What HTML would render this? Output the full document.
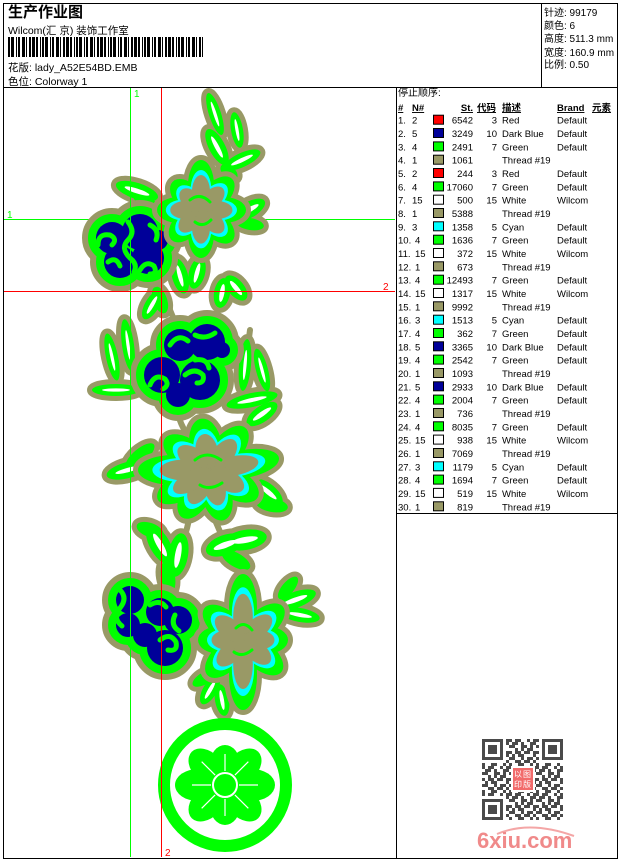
<!DOCTYPE html>
<html><head><meta charset="utf-8"><style>
html,body{margin:0;padding:0;background:#fff;}
svg{display:block;}
.t{font-family:"Liberation Sans","Noto Sans CJK SC",sans-serif;}
</style></head><body>
<svg width="620" height="860" viewBox="0 0 620 860" xmlns="http://www.w3.org/2000/svg" xmlns:xlink="http://www.w3.org/1999/xlink" class="t">
<defs>
<g id="lv">
<ellipse cx="215" cy="114" rx="22" ry="6" transform="rotate(72 215 114)"/>
<ellipse cx="237" cy="130" rx="18" ry="6" transform="rotate(80 237 130)"/>
<ellipse cx="217" cy="147" rx="20" ry="8" transform="rotate(62 217 147)"/>
<ellipse cx="242" cy="160" rx="20" ry="7" transform="rotate(-25 242 160)"/>
<ellipse cx="229" cy="172" rx="10" ry="6" transform="rotate(40 229 172)"/>
<ellipse cx="137" cy="191" rx="22" ry="8" transform="rotate(18 137 191)"/>
<ellipse cx="145" cy="201" rx="16" ry="7" transform="rotate(40 145 201)"/>
<ellipse cx="249" cy="210" rx="18" ry="8" transform="rotate(-30 249 210)"/>
<ellipse cx="250" cy="224" rx="14" ry="6" transform="rotate(10 250 224)"/>
<ellipse cx="180" cy="276" rx="18" ry="8" transform="rotate(75 180 276)"/>
<ellipse cx="197" cy="273" rx="16" ry="8" transform="rotate(105 197 273)"/>
<ellipse cx="172" cy="262" rx="12" ry="6" transform="rotate(40 172 262)"/>
<ellipse cx="222" cy="293" rx="15" ry="8" transform="rotate(100 222 293)"/>
<ellipse cx="236" cy="288" rx="15" ry="8" transform="rotate(50 236 288)"/>
<ellipse cx="152" cy="305" rx="16" ry="7" transform="rotate(120 152 305)"/>
<ellipse cx="160" cy="300" rx="14" ry="7" transform="rotate(70 160 300)"/>
<ellipse cx="116" cy="390" rx="24" ry="6" transform="rotate(0 116 390)"/>
<ellipse cx="112" cy="357" rx="24" ry="6" transform="rotate(78 112 357)"/>
<ellipse cx="128" cy="345" rx="26" ry="6" transform="rotate(82 128 345)"/>
<ellipse cx="245" cy="365" rx="26" ry="6" transform="rotate(95 245 365)"/>
<ellipse cx="262" cy="370" rx="22" ry="6" transform="rotate(75 262 370)"/>
<ellipse cx="252" cy="400" rx="26" ry="7" transform="rotate(-12 252 400)"/>
<ellipse cx="128" cy="470" rx="22" ry="8" transform="rotate(-15 128 470)"/>
<ellipse cx="140" cy="456" rx="18" ry="7" transform="rotate(-40 140 456)"/>
<ellipse cx="262" cy="414" rx="18" ry="8" transform="rotate(-35 262 414)"/>
<ellipse cx="268" cy="492" rx="18" ry="8" transform="rotate(40 268 492)"/>
<ellipse cx="272" cy="505" rx="16" ry="7" transform="rotate(10 272 505)"/>
<ellipse cx="160" cy="545" rx="22" ry="10" transform="rotate(60 160 545)"/>
<ellipse cx="178" cy="555" rx="22" ry="10" transform="rotate(100 178 555)"/>
<ellipse cx="168" cy="577" rx="16" ry="7" transform="rotate(80 168 577)"/>
<ellipse cx="150" cy="530" rx="14" ry="7" transform="rotate(20 150 530)"/>
<ellipse cx="225" cy="545" rx="20" ry="10" transform="rotate(-20 225 545)"/>
<ellipse cx="245" cy="540" rx="22" ry="10" transform="rotate(-10 245 540)"/>
<ellipse cx="236" cy="560" rx="16" ry="7" transform="rotate(30 236 560)"/>
<ellipse cx="295" cy="600" rx="22" ry="8" transform="rotate(-20 295 600)"/>
<ellipse cx="300" cy="615" rx="20" ry="7" transform="rotate(10 300 615)"/>
<ellipse cx="288" cy="588" rx="14" ry="6" transform="rotate(-50 288 588)"/>
<ellipse cx="210" cy="690" rx="16" ry="7" transform="rotate(120 210 690)"/>
<ellipse cx="222" cy="700" rx="16" ry="7" transform="rotate(80 222 700)"/>
<ellipse cx="205" cy="678" rx="14" ry="6" transform="rotate(150 205 678)"/>
</g>
<g id="c1"><circle cx="112" cy="238" r="16"/><circle cx="140" cy="232" r="18"/><circle cx="120" cy="262" r="16"/><circle cx="148" cy="258" r="16"/><circle cx="158" cy="240" r="10"/></g>
<g id="c2"><circle cx="180" cy="345" r="16"/><circle cx="207" cy="342" r="18"/><circle cx="222" cy="350" r="8"/><circle cx="162" cy="375" r="18"/><circle cx="200" cy="380" r="20"/><circle cx="178" cy="395" r="12"/></g>
<g id="c3"><circle cx="130" cy="600" r="14"/><circle cx="128" cy="625" r="12"/><circle cx="160" cy="612" r="14"/><circle cx="178" cy="620" r="14"/><circle cx="165" cy="648" r="18"/><circle cx="145" cy="635" r="12"/></g>
<g id="f1">
<circle cx="201" cy="210" r="20"/>
<ellipse cx="223.5" cy="210" rx="22.5" ry="13" transform="rotate(0 201 210)"/>
<ellipse cx="223" cy="210" rx="22" ry="13" transform="rotate(45 201 210)"/>
<ellipse cx="225" cy="210" rx="24" ry="13" transform="rotate(90 201 210)"/>
<ellipse cx="222" cy="210" rx="21" ry="13" transform="rotate(135 201 210)"/>
<ellipse cx="223" cy="210" rx="22" ry="13" transform="rotate(180 201 210)"/>
<ellipse cx="221" cy="210" rx="20" ry="13" transform="rotate(225 201 210)"/>
<ellipse cx="226" cy="210" rx="25" ry="13" transform="rotate(270 201 210)"/>
<ellipse cx="223" cy="210" rx="22" ry="13" transform="rotate(315 201 210)"/>
</g>
<g id="f2">
<circle cx="210" cy="470" r="30"/>
<ellipse cx="246" cy="470" rx="36" ry="15" transform="rotate(180 210 470)"/>
<ellipse cx="237.5" cy="470" rx="27.5" ry="15" transform="rotate(215 210 470)"/>
<ellipse cx="236" cy="470" rx="26" ry="16" transform="rotate(260 210 470)"/>
<ellipse cx="237.5" cy="470" rx="27.5" ry="15" transform="rotate(310 210 470)"/>
<ellipse cx="245" cy="470" rx="35" ry="14" transform="rotate(350 210 470)"/>
<ellipse cx="237.5" cy="470" rx="27.5" ry="15" transform="rotate(30 210 470)"/>
<ellipse cx="236" cy="470" rx="26" ry="15" transform="rotate(75 210 470)"/>
<ellipse cx="237.5" cy="470" rx="27.5" ry="15" transform="rotate(120 210 470)"/>
<ellipse cx="240" cy="470" rx="30" ry="14" transform="rotate(150 210 470)"/>
</g>
<g id="f3">
<circle cx="243" cy="640" r="25"/>
<ellipse cx="276" cy="640" rx="33" ry="14" transform="rotate(270 243 640)"/>
<ellipse cx="269" cy="640" rx="26" ry="14" transform="rotate(320 243 640)"/>
<ellipse cx="265.5" cy="640" rx="22.5" ry="14" transform="rotate(0 243 640)"/>
<ellipse cx="268" cy="640" rx="25" ry="14" transform="rotate(40 243 640)"/>
<ellipse cx="278" cy="640" rx="35" ry="14" transform="rotate(90 243 640)"/>
<ellipse cx="268" cy="640" rx="25" ry="14" transform="rotate(135 243 640)"/>
<ellipse cx="265.5" cy="640" rx="22.5" ry="14" transform="rotate(180 243 640)"/>
<ellipse cx="268" cy="640" rx="25" ry="14" transform="rotate(220 243 640)"/>
</g>
<pattern id="qr" x="482" y="739" width="27" height="27" patternUnits="userSpaceOnUse">
<path fill="#4a4a4a" d="M0 0h3v3h-3z M6 0h6v3h-6z M18 0h3v3h-3z M24 0h3v3h-3z M3 3h6v3h-6z M12 3h3v3h-3z M21 3h6v3h-6z M0 6h6v3h-6z M12 6h6v3h-6z M21 6h3v3h-3z M6 9h3v3h-3z M12 9h3v3h-3z M18 9h6v3h-6z M0 12h3v3h-3z M6 12h6v3h-6z M15 12h6v3h-6z M24 12h3v3h-3z M3 15h3v3h-3z M9 15h6v3h-6z M24 15h3v3h-3z M0 18h6v3h-6z M12 18h3v3h-3z M18 18h6v3h-6z M6 21h6v3h-6z M15 21h6v3h-6z M24 21h3v3h-3z M0 24h3v3h-3z M9 24h6v3h-6z M21 24h3v3h-3z"/>
</pattern>
</defs>

<rect width="620" height="860" fill="#fff"/>

<!-- Header -->
<text x="8" y="17" font-size="15" font-weight="bold" font-family="'Noto Sans CJK SC',sans-serif">生产作业图</text>
<text x="8" y="34" font-size="10.5">Wilcom(汇 京) 装饰工作室</text>
<path fill="#000" d="M8 37h2v20h-2z M11 37h3v20h-3z M16 37h1v20h-1z M18 37h2v20h-2z M22 37h3v20h-3z M26 37h1v20h-1z M29 37h2v20h-2z M32 37h3v20h-3z M36 37h2v20h-2z M40 37h1v20h-1z M42 37h2v20h-2z M45 37h3v20h-3z M50 37h1v20h-1z M52 37h2v20h-2z M56 37h3v20h-3z M60 37h1v20h-1z M63 37h2v20h-2z M66 37h3v20h-3z M70 37h2v20h-2z M74 37h1v20h-1z M76 37h2v20h-2z M79 37h3v20h-3z M84 37h1v20h-1z M86 37h2v20h-2z M90 37h3v20h-3z M94 37h1v20h-1z M97 37h2v20h-2z M100 37h3v20h-3z M104 37h2v20h-2z M108 37h1v20h-1z M110 37h2v20h-2z M113 37h3v20h-3z M118 37h1v20h-1z M120 37h2v20h-2z M124 37h3v20h-3z M128 37h1v20h-1z M131 37h2v20h-2z M134 37h3v20h-3z M138 37h2v20h-2z M142 37h1v20h-1z M144 37h2v20h-2z M147 37h3v20h-3z M152 37h1v20h-1z M154 37h2v20h-2z M158 37h3v20h-3z M162 37h1v20h-1z M165 37h2v20h-2z M168 37h3v20h-3z M172 37h2v20h-2z M176 37h1v20h-1z M178 37h2v20h-2z M181 37h3v20h-3z M186 37h1v20h-1z M188 37h2v20h-2z M192 37h3v20h-3z M196 37h1v20h-1z M199 37h2v20h-2z M202 37h1v20h-1z"/>
<text x="8" y="71" font-size="10.5">花版: lady_A52E54BD.EMB</text>
<text x="8" y="85" font-size="10.5">色位: Colorway 1</text>

<g font-size="10">
<text x="544" y="16">针迹: 99179</text>
<text x="544" y="29">颜色: 6</text>
<text x="544" y="42">高度: 511.3 mm</text>
<text x="544" y="56">宽度: 160.9 mm</text>
<text x="544" y="68">比例: 0.50</text>
</g>

<!-- Frame -->
<g stroke="#000" stroke-width="1" fill="none" shape-rendering="crispEdges">
<rect x="3.5" y="3.5" width="614" height="855"/>
<line x1="3.5" y1="87.5" x2="617.5" y2="87.5"/>
<line x1="541.5" y1="3.5" x2="541.5" y2="87.5"/>
<line x1="396.5" y1="87.5" x2="396.5" y2="858.5"/>
<line x1="396.5" y1="513.5" x2="617.5" y2="513.5"/>
</g>

<!-- Design area -->
<line x1="4" y1="219.5" x2="395" y2="219.5" stroke="#00ff00" shape-rendering="crispEdges"/>
<g fill="none" stroke="#999966" stroke-width="6" stroke-linecap="round">
<path d="M210,95 Q220,140 230,178"/>
<path d="M165,298 Q170,310 175,322"/>
<path d="M175,405 Q180,425 190,440"/>
<path d="M190,515 Q185,540 175,565"/>
<path d="M215,520 Q228,550 240,578"/>
<path d="M122,330 Q128,370 140,390"/>
<path d="M250,330 Q245,370 240,400"/>
</g>
<use xlink:href="#lv" href="#lv" fill="#999966" stroke="#999966" stroke-width="10" stroke-linejoin="round"/>
<use xlink:href="#lv" href="#lv" fill="#00ff00"/>
<g fill="#fff">
<ellipse cx="215" cy="114" rx="13" ry="1.6" transform="rotate(72 215 114)"/>
<ellipse cx="237" cy="130" rx="11" ry="1.6" transform="rotate(80 237 130)"/>
<ellipse cx="217" cy="147" rx="12" ry="2.2" transform="rotate(62 217 147)"/>
<ellipse cx="242" cy="160" rx="12" ry="2" transform="rotate(-25 242 160)"/>
<ellipse cx="137" cy="191" rx="13" ry="2.4" transform="rotate(18 137 191)"/>
<ellipse cx="249" cy="210" rx="11" ry="2.4" transform="rotate(-30 249 210)"/>
<ellipse cx="180" cy="276" rx="11" ry="2.2" transform="rotate(75 180 276)"/>
<ellipse cx="197" cy="273" rx="10" ry="2.2" transform="rotate(105 197 273)"/>
<ellipse cx="222" cy="293" rx="9" ry="2.4" transform="rotate(100 222 293)"/>
<ellipse cx="236" cy="288" rx="9" ry="2.4" transform="rotate(50 236 288)"/>
<ellipse cx="152" cy="305" rx="10" ry="2" transform="rotate(120 152 305)"/>
<ellipse cx="116" cy="390" rx="14" ry="1.6" transform="rotate(0 116 390)"/>
<ellipse cx="112" cy="357" rx="14" ry="1.6" transform="rotate(78 112 357)"/>
<ellipse cx="128" cy="345" rx="15" ry="1.6" transform="rotate(82 128 345)"/>
<ellipse cx="245" cy="365" rx="15" ry="1.6" transform="rotate(95 245 365)"/>
<ellipse cx="262" cy="370" rx="13" ry="1.6" transform="rotate(75 262 370)"/>
<ellipse cx="252" cy="400" rx="15" ry="2" transform="rotate(-12 252 400)"/>
<ellipse cx="128" cy="470" rx="13" ry="2.2" transform="rotate(-15 128 470)"/>
<ellipse cx="262" cy="414" rx="11" ry="2.4" transform="rotate(-35 262 414)"/>
<ellipse cx="268" cy="492" rx="11" ry="2.4" transform="rotate(40 268 492)"/>
<ellipse cx="160" cy="545" rx="13" ry="3" transform="rotate(60 160 545)"/>
<ellipse cx="178" cy="555" rx="13" ry="3" transform="rotate(100 178 555)"/>
<ellipse cx="225" cy="545" rx="12" ry="3" transform="rotate(-20 225 545)"/>
<ellipse cx="245" cy="540" rx="13" ry="3" transform="rotate(-10 245 540)"/>
<ellipse cx="295" cy="600" rx="13" ry="2.4" transform="rotate(-20 295 600)"/>
<ellipse cx="300" cy="615" rx="12" ry="2" transform="rotate(10 300 615)"/>
<ellipse cx="210" cy="690" rx="10" ry="2" transform="rotate(120 210 690)"/>
<ellipse cx="222" cy="700" rx="10" ry="2" transform="rotate(80 222 700)"/>
</g>

<!-- Clouds -->
<use xlink:href="#c1" href="#c1" fill="#999966" stroke="#999966" stroke-width="28"/>
<use xlink:href="#c1" href="#c1" fill="#00ff00" stroke="#00ff00" stroke-width="16"/>
<use xlink:href="#c1" href="#c1" fill="#000099"/>
<use xlink:href="#c2" href="#c2" fill="#999966" stroke="#999966" stroke-width="28"/>
<use xlink:href="#c2" href="#c2" fill="#00ff00" stroke="#00ff00" stroke-width="16"/>
<use xlink:href="#c2" href="#c2" fill="#000099"/>
<use xlink:href="#c3" href="#c3" fill="#999966" stroke="#999966" stroke-width="28"/>
<use xlink:href="#c3" href="#c3" fill="#00ff00" stroke="#00ff00" stroke-width="16"/>
<use xlink:href="#c3" href="#c3" fill="#000099"/>
<g fill="none" stroke="#00ff00" stroke-width="5" stroke-linecap="round">
<path d="M98,245 q0,-12 12,-10 q8,4 2,10"/>
<path d="M128,222 q8,10 0,18 q-8,8 2,18 q8,6 4,14"/>
<path d="M140,270 q6,-10 14,-4 q4,8 -4,8"/>
<path d="M150,225 q10,5 6,15"/>
<path d="M108,262 q8,-6 12,4"/>
<path d="M170,345 q8,-12 18,-4"/>
<path d="M195,335 q10,5 20,-2"/>
<path d="M150,385 q5,-12 15,-6 q5,6 -2,10"/>
<path d="M185,375 q10,-8 18,0 q2,8 -6,8"/>
<path d="M195,360 q12,-2 14,8"/>
<path d="M120,590 q8,8 0,18 q-8,10 2,18"/>
<path d="M150,605 q10,-6 16,2"/>
<path d="M160,640 q10,-8 16,2 q2,10 -8,8"/>
<path d="M175,615 q-5,10 4,16"/>
</g>

<!-- Flowers -->
<use xlink:href="#f1" href="#f1" fill="#999966" stroke="#999966" stroke-width="10"/>
<use xlink:href="#f1" href="#f1" fill="#00ff00"/>
<use xlink:href="#f1" href="#f1" fill="#00ffff" transform="translate(201 210) scale(0.8) translate(-201 -210)"/>
<use xlink:href="#f1" href="#f1" fill="#999966" transform="translate(201 210) scale(0.7) translate(-201 -210)"/>
<use xlink:href="#f2" href="#f2" fill="#999966" stroke="#999966" stroke-width="10"/>
<use xlink:href="#f2" href="#f2" fill="#00ff00"/>
<use xlink:href="#f2" href="#f2" fill="#00ffff" transform="translate(210 470) scale(0.8) translate(-210 -470)"/>
<use xlink:href="#f2" href="#f2" fill="#999966" transform="translate(210 470) scale(0.7) translate(-210 -470)"/>
<use xlink:href="#f3" href="#f3" fill="#999966" stroke="#999966" stroke-width="10"/>
<use xlink:href="#f3" href="#f3" fill="#00ff00"/>
<use xlink:href="#f3" href="#f3" fill="#00ffff" transform="translate(243 640) scale(0.8) translate(-243 -640)"/>
<use xlink:href="#f3" href="#f3" fill="#999966" transform="translate(243 640) scale(0.7) translate(-243 -640)"/>
<g fill="none" stroke="#00ff00" stroke-width="3" stroke-linecap="round">
<path d="M190,200 q10,-8 20,2"/><path d="M195,222 q8,6 16,-2"/>
<path d="M195,460 q12,-10 26,0"/><path d="M200,485 q10,6 22,-2"/>
<path d="M236,628 q8,-8 16,2"/><path d="M234,652 q8,6 18,-2"/>
</g>

<!-- Bottom circle motif -->
<circle cx="225" cy="785" r="61" fill="none" stroke="#00ff00" stroke-width="12"/>
<g fill="#00ff00">
<circle cx="225" cy="785" r="20"/>
<ellipse cx="252" cy="785" rx="23" ry="16" transform="rotate(0 225 785)"/>
<ellipse cx="250" cy="785" rx="22" ry="15" transform="rotate(45 225 785)"/>
<ellipse cx="246" cy="785" rx="19" ry="15" transform="rotate(90 225 785)"/>
<ellipse cx="250" cy="785" rx="22" ry="15" transform="rotate(135 225 785)"/>
<ellipse cx="252" cy="785" rx="23" ry="16" transform="rotate(180 225 785)"/>
<ellipse cx="250" cy="785" rx="22" ry="15" transform="rotate(225 225 785)"/>
<ellipse cx="246" cy="785" rx="19" ry="15" transform="rotate(270 225 785)"/>
<ellipse cx="250" cy="785" rx="22" ry="15" transform="rotate(315 225 785)"/>
</g>
<g stroke="#fff" stroke-width="1.2">
<line x1="239" y1="785" x2="258" y2="785" transform="rotate(0 225 785)"/>
<line x1="239" y1="785" x2="258" y2="785" transform="rotate(45 225 785)"/>
<line x1="239" y1="785" x2="256" y2="785" transform="rotate(90 225 785)"/>
<line x1="239" y1="785" x2="258" y2="785" transform="rotate(135 225 785)"/>
<line x1="239" y1="785" x2="258" y2="785" transform="rotate(180 225 785)"/>
<line x1="239" y1="785" x2="258" y2="785" transform="rotate(225 225 785)"/>
<line x1="239" y1="785" x2="256" y2="785" transform="rotate(270 225 785)"/>
<line x1="239" y1="785" x2="258" y2="785" transform="rotate(315 225 785)"/>
</g>
<circle cx="225" cy="785" r="12" fill="none" stroke="#fff" stroke-width="2"/>
<circle cx="225" cy="785" r="10.5" fill="#00ff00"/>

<!-- Guides -->
<g shape-rendering="crispEdges">
<line x1="130.5" y1="88" x2="130.5" y2="857" stroke="#00ff00"/>
<line x1="161.5" y1="88" x2="161.5" y2="857" stroke="#ff0000"/>
<line x1="4" y1="291.5" x2="395" y2="291.5" stroke="#ff0000"/>
</g>
<g font-size="10">
<text x="134" y="97" fill="#00ff00">1</text>
<text x="7" y="218" fill="#00ff00">1</text>
<text x="383" y="290" fill="#ff0000">2</text>
<text x="165" y="856" fill="#ff0000">2</text>
</g>

<!-- Stop sequence table -->
<text x="398" y="96" font-size="10">停止顺序:</text>
<g font-size="9.5" font-weight="bold" text-decoration="underline">
<text x="398" y="111">#</text>
<text x="412" y="111">N#</text>
<text x="473" y="111" text-anchor="end">St.</text>
<text x="477" y="111">代码</text>
<text x="502" y="111">描述</text>
<text x="557" y="111">Brand</text>
<text x="592" y="111">元素</text>
</g>
<g font-size="9.5" stroke-width="1">
<g transform="translate(0,123.7)"><text x="398">1.</text><text x="412">2</text><rect x="433.5" y="-8.5" width="10" height="9" fill="#ff0000" stroke="#000"/><text x="473" text-anchor="end">6542</text><text x="497" text-anchor="end">3</text><text x="502">Red</text><text x="557">Default</text></g>
<g transform="translate(0,137.0)"><text x="398">2.</text><text x="412">5</text><rect x="433.5" y="-8.5" width="10" height="9" fill="#000099" stroke="#000"/><text x="473" text-anchor="end">3249</text><text x="497" text-anchor="end">10</text><text x="502">Dark Blue</text><text x="557">Default</text></g>
<g transform="translate(0,150.4)"><text x="398">3.</text><text x="412">4</text><rect x="433.5" y="-8.5" width="10" height="9" fill="#00ff00" stroke="#000"/><text x="473" text-anchor="end">2491</text><text x="497" text-anchor="end">7</text><text x="502">Green</text><text x="557">Default</text></g>
<g transform="translate(0,163.7)"><text x="398">4.</text><text x="412">1</text><rect x="433.5" y="-8.5" width="10" height="9" fill="#999966" stroke="#000"/><text x="473" text-anchor="end">1061</text><text x="502">Thread #19</text></g>
<g transform="translate(0,177.0)"><text x="398">5.</text><text x="412">2</text><rect x="433.5" y="-8.5" width="10" height="9" fill="#ff0000" stroke="#000"/><text x="473" text-anchor="end">244</text><text x="497" text-anchor="end">3</text><text x="502">Red</text><text x="557">Default</text></g>
<g transform="translate(0,190.4)"><text x="398">6.</text><text x="412">4</text><rect x="433.5" y="-8.5" width="10" height="9" fill="#00ff00" stroke="#000"/><text x="473" text-anchor="end">17060</text><text x="497" text-anchor="end">7</text><text x="502">Green</text><text x="557">Default</text></g>
<g transform="translate(0,203.7)"><text x="398">7.</text><text x="412">15</text><rect x="433.5" y="-8.5" width="10" height="9" fill="#ffffff" stroke="#000"/><text x="473" text-anchor="end">500</text><text x="497" text-anchor="end">15</text><text x="502">White</text><text x="557">Wilcom</text></g>
<g transform="translate(0,217.0)"><text x="398">8.</text><text x="412">1</text><rect x="433.5" y="-8.5" width="10" height="9" fill="#999966" stroke="#000"/><text x="473" text-anchor="end">5388</text><text x="502">Thread #19</text></g>
<g transform="translate(0,230.3)"><text x="398">9.</text><text x="412">3</text><rect x="433.5" y="-8.5" width="10" height="9" fill="#00ffff" stroke="#000"/><text x="473" text-anchor="end">1358</text><text x="497" text-anchor="end">5</text><text x="502">Cyan</text><text x="557">Default</text></g>
<g transform="translate(0,243.7)"><text x="398">10.</text><text x="415">4</text><rect x="433.5" y="-8.5" width="10" height="9" fill="#00ff00" stroke="#000"/><text x="473" text-anchor="end">1636</text><text x="497" text-anchor="end">7</text><text x="502">Green</text><text x="557">Default</text></g>
<g transform="translate(0,257.0)"><text x="398">11.</text><text x="415">15</text><rect x="433.5" y="-8.5" width="10" height="9" fill="#ffffff" stroke="#000"/><text x="473" text-anchor="end">372</text><text x="497" text-anchor="end">15</text><text x="502">White</text><text x="557">Wilcom</text></g>
<g transform="translate(0,270.3)"><text x="398">12.</text><text x="415">1</text><rect x="433.5" y="-8.5" width="10" height="9" fill="#999966" stroke="#000"/><text x="473" text-anchor="end">673</text><text x="502">Thread #19</text></g>
<g transform="translate(0,283.7)"><text x="398">13.</text><text x="415">4</text><rect x="433.5" y="-8.5" width="10" height="9" fill="#00ff00" stroke="#000"/><text x="473" text-anchor="end">12493</text><text x="497" text-anchor="end">7</text><text x="502">Green</text><text x="557">Default</text></g>
<g transform="translate(0,297.0)"><text x="398">14.</text><text x="415">15</text><rect x="433.5" y="-8.5" width="10" height="9" fill="#ffffff" stroke="#000"/><text x="473" text-anchor="end">1317</text><text x="497" text-anchor="end">15</text><text x="502">White</text><text x="557">Wilcom</text></g>
<g transform="translate(0,310.3)"><text x="398">15.</text><text x="415">1</text><rect x="433.5" y="-8.5" width="10" height="9" fill="#999966" stroke="#000"/><text x="473" text-anchor="end">9992</text><text x="502">Thread #19</text></g>
<g transform="translate(0,323.7)"><text x="398">16.</text><text x="415">3</text><rect x="433.5" y="-8.5" width="10" height="9" fill="#00ffff" stroke="#000"/><text x="473" text-anchor="end">1513</text><text x="497" text-anchor="end">5</text><text x="502">Cyan</text><text x="557">Default</text></g>
<g transform="translate(0,337.0)"><text x="398">17.</text><text x="415">4</text><rect x="433.5" y="-8.5" width="10" height="9" fill="#00ff00" stroke="#000"/><text x="473" text-anchor="end">362</text><text x="497" text-anchor="end">7</text><text x="502">Green</text><text x="557">Default</text></g>
<g transform="translate(0,350.3)"><text x="398">18.</text><text x="415">5</text><rect x="433.5" y="-8.5" width="10" height="9" fill="#000099" stroke="#000"/><text x="473" text-anchor="end">3365</text><text x="497" text-anchor="end">10</text><text x="502">Dark Blue</text><text x="557">Default</text></g>
<g transform="translate(0,363.6)"><text x="398">19.</text><text x="415">4</text><rect x="433.5" y="-8.5" width="10" height="9" fill="#00ff00" stroke="#000"/><text x="473" text-anchor="end">2542</text><text x="497" text-anchor="end">7</text><text x="502">Green</text><text x="557">Default</text></g>
<g transform="translate(0,377.0)"><text x="398">20.</text><text x="415">1</text><rect x="433.5" y="-8.5" width="10" height="9" fill="#999966" stroke="#000"/><text x="473" text-anchor="end">1093</text><text x="502">Thread #19</text></g>
<g transform="translate(0,390.3)"><text x="398">21.</text><text x="415">5</text><rect x="433.5" y="-8.5" width="10" height="9" fill="#000099" stroke="#000"/><text x="473" text-anchor="end">2933</text><text x="497" text-anchor="end">10</text><text x="502">Dark Blue</text><text x="557">Default</text></g>
<g transform="translate(0,403.6)"><text x="398">22.</text><text x="415">4</text><rect x="433.5" y="-8.5" width="10" height="9" fill="#00ff00" stroke="#000"/><text x="473" text-anchor="end">2004</text><text x="497" text-anchor="end">7</text><text x="502">Green</text><text x="557">Default</text></g>
<g transform="translate(0,417.0)"><text x="398">23.</text><text x="415">1</text><rect x="433.5" y="-8.5" width="10" height="9" fill="#999966" stroke="#000"/><text x="473" text-anchor="end">736</text><text x="502">Thread #19</text></g>
<g transform="translate(0,430.3)"><text x="398">24.</text><text x="415">4</text><rect x="433.5" y="-8.5" width="10" height="9" fill="#00ff00" stroke="#000"/><text x="473" text-anchor="end">8035</text><text x="497" text-anchor="end">7</text><text x="502">Green</text><text x="557">Default</text></g>
<g transform="translate(0,443.6)"><text x="398">25.</text><text x="415">15</text><rect x="433.5" y="-8.5" width="10" height="9" fill="#ffffff" stroke="#000"/><text x="473" text-anchor="end">938</text><text x="497" text-anchor="end">15</text><text x="502">White</text><text x="557">Wilcom</text></g>
<g transform="translate(0,457.0)"><text x="398">26.</text><text x="415">1</text><rect x="433.5" y="-8.5" width="10" height="9" fill="#999966" stroke="#000"/><text x="473" text-anchor="end">7069</text><text x="502">Thread #19</text></g>
<g transform="translate(0,470.3)"><text x="398">27.</text><text x="415">3</text><rect x="433.5" y="-8.5" width="10" height="9" fill="#00ffff" stroke="#000"/><text x="473" text-anchor="end">1179</text><text x="497" text-anchor="end">5</text><text x="502">Cyan</text><text x="557">Default</text></g>
<g transform="translate(0,483.6)"><text x="398">28.</text><text x="415">4</text><rect x="433.5" y="-8.5" width="10" height="9" fill="#00ff00" stroke="#000"/><text x="473" text-anchor="end">1694</text><text x="497" text-anchor="end">7</text><text x="502">Green</text><text x="557">Default</text></g>
<g transform="translate(0,496.9)"><text x="398">29.</text><text x="415">15</text><rect x="433.5" y="-8.5" width="10" height="9" fill="#ffffff" stroke="#000"/><text x="473" text-anchor="end">519</text><text x="497" text-anchor="end">15</text><text x="502">White</text><text x="557">Wilcom</text></g>
<g transform="translate(0,510.3)"><text x="398">30.</text><text x="415">1</text><rect x="433.5" y="-8.5" width="10" height="9" fill="#999966" stroke="#000"/><text x="473" text-anchor="end">819</text><text x="502">Thread #19</text></g>
</g>

<!-- QR watermark -->
<rect x="482" y="739" width="81" height="81" fill="url(#qr)"/>
<g fill="#4a4a4a">
<rect x="482" y="739" width="24" height="24" fill="#fff"/><rect x="482" y="739" width="21" height="21"/><rect x="485" y="742" width="15" height="15" fill="#fff"/><rect x="488" y="745" width="9" height="9"/>
<rect x="539" y="739" width="24" height="24" fill="#fff"/><rect x="542" y="739" width="21" height="21"/><rect x="545" y="742" width="15" height="15" fill="#fff"/><rect x="548" y="745" width="9" height="9"/>
<rect x="482" y="796" width="24" height="24" fill="#fff"/><rect x="482" y="799" width="21" height="21"/><rect x="485" y="802" width="15" height="15" fill="#fff"/><rect x="488" y="805" width="9" height="9"/>
</g>
<rect x="511" y="766" width="24" height="26" fill="#fff"/>
<rect x="513" y="768" width="20" height="22" fill="#f26b6b"/>
<g font-size="8" fill="#fff" font-family="'Noto Sans CJK SC',sans-serif">
<text x="514" y="777">以</text><text x="523" y="777">图</text>
<text x="514" y="787">印</text><text x="523" y="787">版</text>
</g>
<path d="M497,834 Q530,820 574,836" fill="none" stroke="#f4a6a6" stroke-width="2"/>
<text x="477" y="848" font-size="22" font-weight="bold" fill="#f08a8a">6xiu.com</text>
</svg>
</body></html>
